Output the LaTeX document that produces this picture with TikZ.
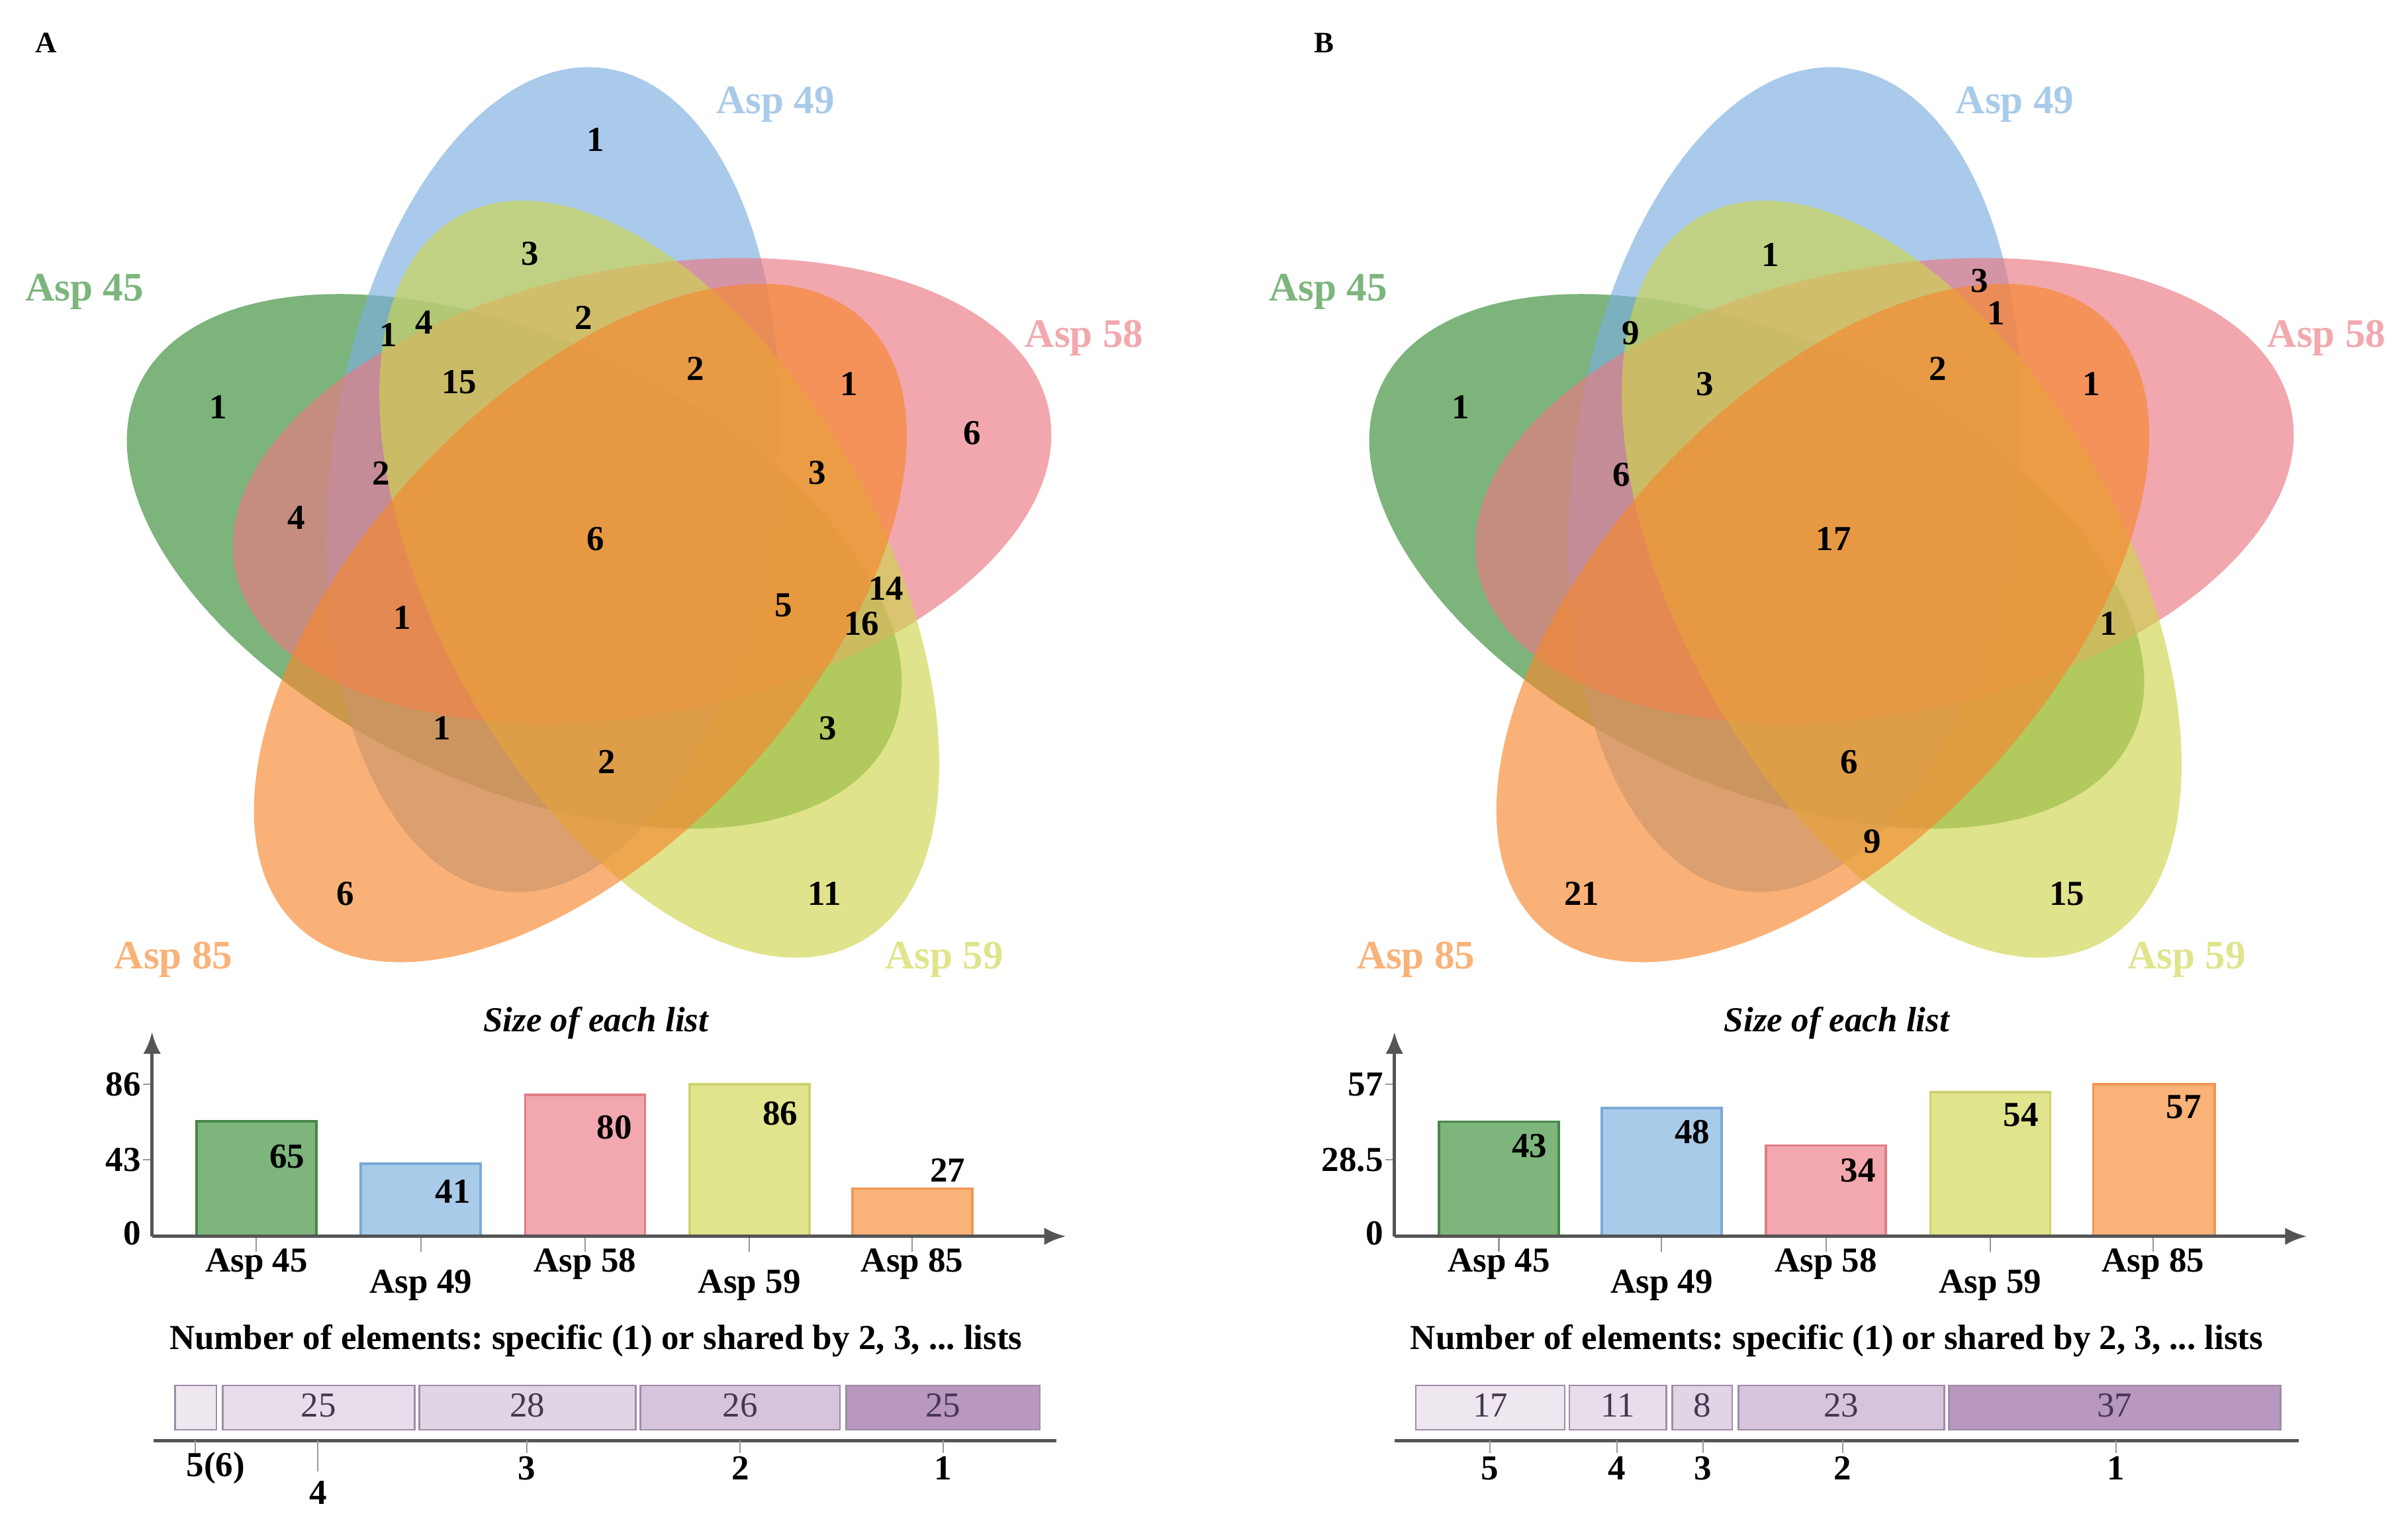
\documentclass[tikz,border=0pt]{standalone}
\usepackage{fontspec}
\setmainfont{Liberation Serif}
\frenchspacing
\usetikzlibrary{arrows.meta}
% set colours (venn fills are drawn see-through)
\definecolor{vgreen}{RGB}{55,141,55}
\definecolor{vblue}{RGB}{123,175,223}
\definecolor{vpink}{RGB}{235,121,130}
\definecolor{vyellow}{RGB}{207,213,78}
\definecolor{vorange}{RGB}{246,136,47}
\definecolor{lgreen}{RGB}{125,181,125}
\definecolor{lblue}{RGB}{169,203,234}
\definecolor{lpink}{RGB}{242,168,174}
\definecolor{lyellow}{RGB}{224,228,140}
\definecolor{lorange}{RGB}{249,178,120}
\definecolor{dgreen}{RGB}{70,135,70}
\definecolor{dblue}{RGB}{120,170,215}
\definecolor{dpink}{RGB}{225,125,135}
\definecolor{dyellow}{RGB}{205,210,110}
\definecolor{dorange}{RGB}{240,150,85}
\definecolor{axisgray}{RGB}{85,85,85}
\definecolor{stripedge}{RGB}{160,140,168}
\definecolor{striptext}{RGB}{70,55,80}
\definecolor{strip5}{RGB}{238,231,240}
\definecolor{strip4}{RGB}{232,222,235}
\definecolor{strip3}{RGB}{225,212,229}
\definecolor{strip2}{RGB}{214,196,220}
\definecolor{strip1}{RGB}{184,152,190}
\tikzstyle{venn_fill} = [fill opacity=0.65]
\tikzstyle{venn_num} = [font=\fontsize{13}{15}\selectfont\bfseries, inner sep=0pt]
\tikzstyle{venn_name} = [font=\fontsize{15}{18}\selectfont\bfseries, inner sep=0pt]
\tikzstyle{panel_tag} = [font=\fontsize{11}{13}\selectfont\bfseries, inner sep=0pt]
\tikzstyle{chart_title} = [font=\fontsize{13}{15}\selectfont\bfseries\itshape, inner sep=0pt]
\tikzstyle{chart_text} = [font=\fontsize{13}{15}\selectfont\bfseries, inner sep=0pt]
\tikzstyle{strip_num} = [font=\fontsize{13}{15}\selectfont, text=striptext, inner sep=0pt]
\tikzstyle{axis_arrow} = [draw=axisgray, line width=1.2pt, -{Latex[length=8pt,width=6.5pt]}]
\tikzstyle{axis_plain} = [draw=axisgray, line width=1.2pt]
\tikzstyle{tick_mark} = [draw=axisgray!60, line width=0.5pt]
\tikzstyle{bar_box} = [line width=0.9pt]
\tikzstyle{strip_box} = [draw=stripedge, line width=0.6pt]

\begin{document}
\begin{tikzpicture}[x=0.02cm,y=-0.02cm]
\fill[white] (0,0) rectangle (1568,1002);
\useasboundingbox (0,0) rectangle (1568,1002);

% ---- A: venn
\fill[vgreen, venn_fill, rotate around={-25:(334.9,365.5)}] (334.9,365.5) ellipse [x radius=270, y radius=145];
\fill[vblue, venn_fill, rotate around={83:(359.8,312.3)}] (359.8,312.3) ellipse [x radius=270, y radius=145];
\fill[vpink, venn_fill, rotate around={11:(418.1,319.4)}] (418.1,319.4) ellipse [x radius=270, y radius=145];
\fill[vyellow, venn_fill, rotate around={-61:(429.3,377.1)}] (429.3,377.1) ellipse [x radius=270, y radius=145];
\fill[vorange, venn_fill, rotate around={47:(377.9,405.6)}] (377.9,405.6) ellipse [x radius=270, y radius=145];

\node[panel_tag] (tagA) at (30,28) {A};
\node[venn_name, text=lblue] (nA49) at (505,68) {Asp 49};
\node[venn_name, text=lgreen] (nA45) at (55,190) {Asp 45};
\node[venn_name, text=lpink] (nA58) at (706,220) {Asp 58};
\node[venn_name, text=lyellow] (nA59) at (615,625) {Asp 59};
\node[venn_name, text=lorange] (nA85) at (113,625) {Asp 85};

\node[venn_num] (a1) at (388,91) {1};
\node[venn_num] (a2) at (345,165) {3};
\node[venn_num] (a3) at (380,207) {2};
\node[venn_num] (a4) at (253,218) {1};
\node[venn_num] (a5) at (276,210) {4};
\node[venn_num] (a6) at (299,249) {15};
\node[venn_num] (a7) at (453,240) {2};
\node[venn_num] (a8) at (553,250) {1};
\node[venn_num] (a9) at (633,282) {6};
\node[venn_num] (a10) at (142,265) {1};
\node[venn_num] (a11) at (248,308) {2};
\node[venn_num] (a12) at (193,337) {4};
\node[venn_num] (a13) at (532,308) {3};
\node[venn_num] (a14) at (388,351) {6};
\node[venn_num] (a15) at (577,383) {14};
\node[venn_num] (a16) at (510,394) {5};
\node[venn_num] (a17) at (561,406) {16};
\node[venn_num] (a18) at (262,402) {1};
\node[venn_num] (a19) at (288,474) {1};
\node[venn_num] (a20) at (395,496) {2};
\node[venn_num] (a21) at (539,474) {3};
\node[venn_num] (a22) at (225,582) {6};
\node[venn_num] (a23) at (537,582) {11};

% ---- A: size of each list
\node[chart_title] (tA) at (388,666) {Size of each list};
\coordinate (oA) at (99,805);
\coordinate (yA) at (99,672);
\coordinate (xA) at (694,805);
\filldraw[fill=lgreen, draw=dgreen, bar_box] (128,805) rectangle (206,730.2);
\filldraw[fill=lblue, draw=dblue, bar_box] (235,805) rectangle (313,757.8);
\filldraw[fill=lpink, draw=dpink, bar_box] (342,805) rectangle (420,712.9);
\filldraw[fill=lyellow, draw=dyellow, bar_box] (449,805) rectangle (527,706);
\filldraw[fill=lorange, draw=dorange, bar_box] (555,805) rectangle (633,773.9);
\draw[tick_mark] (93,706) -- (99,706) (93,755) -- (99,755);
\draw[tick_mark] (167,805) -- (167,815) (274,805) -- (274,815) (381,805) -- (381,815) (488,805) -- (488,815) (594,805) -- (594,815);
\draw[axis_arrow] (oA) -- (yA);
\draw[axis_arrow] (oA) -- (xA);
\node[chart_text, anchor=east] (yA86) at (92,706) {86};
\node[chart_text, anchor=east] (yA43) at (92,755) {43};
\node[chart_text, anchor=east] (yA0) at (92,803) {0};
\node[chart_text] (vA45) at (187,753) {65};
\node[chart_text] (vA49) at (295,776) {41};
\node[chart_text] (vA58) at (400,734) {80};
\node[chart_text] (vA59) at (508,725) {86};
\node[chart_text] (vA85) at (617,762) {27};
\node[chart_text] (cA45) at (167,823) {Asp 45};
\node[chart_text] (cA49) at (274,837) {Asp 49};
\node[chart_text] (cA58) at (381,823) {Asp 58};
\node[chart_text] (cA59) at (488,837) {Asp 59};
\node[chart_text] (cA85) at (594,823) {Asp 85};

% ---- A: shared elements
\node[chart_text] (sA) at (388,873) {Number of elements: specific (1) or shared by 2, 3, ... lists};
\filldraw[strip_box, fill=strip5] (114,902) rectangle (141,931);
\filldraw[strip_box, fill=strip4] (145,902) rectangle (270,931);
\filldraw[strip_box, fill=strip3] (273,902) rectangle (414,931);
\filldraw[strip_box, fill=strip2] (417,902) rectangle (547,931);
\filldraw[strip_box, fill=strip1] (551,902) rectangle (677,931);
\node[strip_num] (kA4) at (207.5,915) {25};
\node[strip_num] (kA3) at (343.5,915) {28};
\node[strip_num] (kA2) at (482,915) {26};
\node[strip_num] (kA1) at (614,915) {25};
\coordinate (lA0) at (100,938);
\coordinate (lA1) at (688,938);
\draw[axis_plain] (lA0) -- (lA1);
\draw[tick_mark] (127,938) -- (127,946) (207,938) -- (207,958) (343,938) -- (343,946) (482,938) -- (482,946) (614,938) -- (614,946);
\node[chart_text, anchor=west] (gA5) at (121,956) {5(6)};
\node[chart_text] (gA4) at (207,972) {4};
\node[chart_text] (gA3) at (343,956) {3};
\node[chart_text] (gA2) at (482,956) {2};
\node[chart_text] (gA1) at (614,956) {1};

% ---- B: venn
\fill[vgreen, venn_fill, rotate around={-25:(1143.9,365.5)}] (1143.9,365.5) ellipse [x radius=270, y radius=145];
\fill[vblue, venn_fill, rotate around={83:(1168.8,312.3)}] (1168.8,312.3) ellipse [x radius=270, y radius=145];
\fill[vpink, venn_fill, rotate around={11:(1227.1,319.4)}] (1227.1,319.4) ellipse [x radius=270, y radius=145];
\fill[vyellow, venn_fill, rotate around={-61:(1238.3,377.1)}] (1238.3,377.1) ellipse [x radius=270, y radius=145];
\fill[vorange, venn_fill, rotate around={47:(1186.9,405.6)}] (1186.9,405.6) ellipse [x radius=270, y radius=145];

\node[panel_tag] (tagB) at (862,28) {B};
\node[venn_name, text=lblue] (nB49) at (1312,68) {Asp 49};
\node[venn_name, text=lgreen] (nB45) at (865,190) {Asp 45};
\node[venn_name, text=lpink] (nB58) at (1515,220) {Asp 58};
\node[venn_name, text=lyellow] (nB59) at (1424,625) {Asp 59};
\node[venn_name, text=lorange] (nB85) at (922,625) {Asp 85};

\node[venn_num] (b1) at (1153,166) {1};
\node[venn_num] (b2) at (1289,183) {3};
\node[venn_num] (b3) at (1300,204) {1};
\node[venn_num] (b4) at (1062,217) {9};
\node[venn_num] (b5) at (1110,250) {3};
\node[venn_num] (b6) at (1262,240) {2};
\node[venn_num] (b7) at (1362,250) {1};
\node[venn_num] (b8) at (951,265) {1};
\node[venn_num] (b9) at (1056,309) {6};
\node[venn_num] (b10) at (1194,351) {17};
\node[venn_num] (b11) at (1373,406) {1};
\node[venn_num] (b12) at (1204,496) {6};
\node[venn_num] (b13) at (1219,548) {9};
\node[venn_num] (b14) at (1030,582) {21};
\node[venn_num] (b15) at (1346,582) {15};

% ---- B: size of each list
\node[chart_title] (tB) at (1196,666) {Size of each list};
\coordinate (oB) at (908,805);
\coordinate (yB) at (908,672);
\coordinate (xB) at (1502,805);
\filldraw[fill=lgreen, draw=dgreen, bar_box] (937,805) rectangle (1015,730.3);
\filldraw[fill=lblue, draw=dblue, bar_box] (1043,805) rectangle (1121,721.6);
\filldraw[fill=lpink, draw=dpink, bar_box] (1150,805) rectangle (1228,745.9);
\filldraw[fill=lyellow, draw=dyellow, bar_box] (1257,805) rectangle (1335,711.2);
\filldraw[fill=lorange, draw=dorange, bar_box] (1363,805) rectangle (1442,706);
\draw[tick_mark] (902,706) -- (908,706) (902,755) -- (908,755);
\draw[tick_mark] (976,805) -- (976,815) (1082,805) -- (1082,815) (1189,805) -- (1189,815) (1296,805) -- (1296,815) (1402,805) -- (1402,815);
\draw[axis_arrow] (oB) -- (yB);
\draw[axis_arrow] (oB) -- (xB);
\node[chart_text, anchor=east] (yB57) at (901,706) {57};
\node[chart_text, anchor=east] (yB28) at (901,755) {28.5};
\node[chart_text, anchor=east] (yB0) at (901,803) {0};
\node[chart_text] (vB45) at (996,746) {43};
\node[chart_text] (vB49) at (1102,737) {48};
\node[chart_text] (vB58) at (1210,762) {34};
\node[chart_text] (vB59) at (1316,726) {54};
\node[chart_text] (vB85) at (1422,721) {57};
\node[chart_text] (cB45) at (976,823) {Asp 45};
\node[chart_text] (cB49) at (1082,837) {Asp 49};
\node[chart_text] (cB58) at (1189,823) {Asp 58};
\node[chart_text] (cB59) at (1296,837) {Asp 59};
\node[chart_text] (cB85) at (1402,823) {Asp 85};

% ---- B: shared elements
\node[chart_text] (sB) at (1196,873) {Number of elements: specific (1) or shared by 2, 3, ... lists};
\filldraw[strip_box, fill=strip5] (922,902) rectangle (1019,931);
\filldraw[strip_box, fill=strip4] (1022,902) rectangle (1085,931);
\filldraw[strip_box, fill=strip3] (1089,902) rectangle (1128,931);
\filldraw[strip_box, fill=strip2] (1132,902) rectangle (1266,931);
\filldraw[strip_box, fill=strip1] (1269,902) rectangle (1485,931);
\node[strip_num] (kB5) at (970.5,915) {17};
\node[strip_num] (kB4) at (1053.5,915) {11};
\node[strip_num] (kB3) at (1108.5,915) {8};
\node[strip_num] (kB2) at (1199,915) {23};
\node[strip_num] (kB1) at (1377,915) {37};
\coordinate (lB0) at (908,938);
\coordinate (lB1) at (1497,938);
\draw[axis_plain] (lB0) -- (lB1);
\draw[tick_mark] (970,938) -- (970,946) (1053,938) -- (1053,946) (1109,938) -- (1109,946) (1200,938) -- (1200,946) (1378,938) -- (1378,946);
\node[chart_text] (gB5) at (970,956) {5};
\node[chart_text] (gB4) at (1053,956) {4};
\node[chart_text] (gB3) at (1109,956) {3};
\node[chart_text] (gB2) at (1200,956) {2};
\node[chart_text] (gB1) at (1378,956) {1};
\end{tikzpicture}
\end{document}
